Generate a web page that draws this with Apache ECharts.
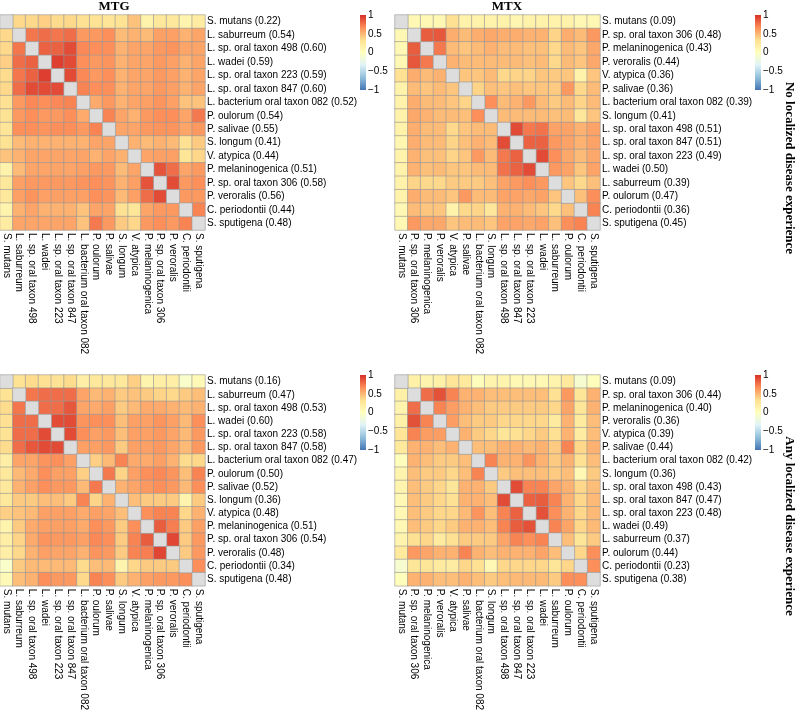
<!DOCTYPE html>
<html><head><meta charset="utf-8">
<script src="https://cdn.jsdelivr.net/npm/echarts@6/dist/echarts.min.js"></script>
<style>html,body{margin:0;padding:0;background:#fff}#c{width:796px;height:713px}</style>
</head><body><div id="c"></div>
<script>
// ---------- DATA ----------
const mtgTaxa = ["S. mutans","L. saburreum","L. sp. oral taxon 498","L. wadei","L. sp. oral taxon 223","L. sp. oral taxon 847","L. bacterium oral taxon 082","P. oulorum","P. salivae","S. longum","V. atypica","P. melaninogenica","P. sp. oral taxon 306","P. veroralis","C. periodontii","S. sputigena"];
const mtxTaxa = ["S. mutans","P. sp. oral taxon 306","P. melaninogenica","P. veroralis","V. atypica","P. salivae","L. bacterium oral taxon 082","S. longum","L. sp. oral taxon 498","L. sp. oral taxon 847","L. sp. oral taxon 223","L. wadei","L. saburreum","P. oulorum","C. periodontii","S. sputigena"];

const mtgNoMeans  = [0.22,0.54,0.60,0.59,0.59,0.60,0.52,0.54,0.55,0.41,0.44,0.51,0.58,0.56,0.44,0.48];
const mtxNoMeans  = [0.09,0.48,0.43,0.44,0.36,0.36,0.39,0.41,0.51,0.51,0.49,0.50,0.39,0.47,0.36,0.45];
const mtgAnyMeans = [0.16,0.47,0.53,0.60,0.58,0.58,0.47,0.50,0.52,0.36,0.48,0.51,0.54,0.48,0.34,0.48];
const mtxAnyMeans = [0.09,0.44,0.40,0.36,0.39,0.44,0.42,0.36,0.43,0.47,0.48,0.49,0.37,0.44,0.23,0.38];

// lower triangles of the correlation matrices (row i: columns 0..i-1)
const mtgNoLower = [
  [],
  [0.36],
  [0.36,0.75],
  [0.40,0.78,0.82],
  [0.35,0.75,0.82,0.95],
  [0.36,0.78,0.90,0.90,0.90],
  [0.32,0.62,0.68,0.66,0.68,0.70],
  [0.30,0.62,0.66,0.62,0.62,0.66,0.55],
  [0.28,0.66,0.66,0.64,0.66,0.66,0.62,0.70],
  [0.30,0.48,0.52,0.52,0.52,0.52,0.52,0.57,0.57],
  [0.45,0.52,0.57,0.57,0.57,0.57,0.57,0.52,0.57,0.52],
  [0.14,0.48,0.57,0.57,0.57,0.57,0.59,0.62,0.62,0.48,0.57],
  [0.25,0.59,0.62,0.62,0.62,0.62,0.64,0.66,0.64,0.52,0.59,0.87],
  [0.25,0.59,0.64,0.59,0.59,0.59,0.59,0.66,0.64,0.49,0.59,0.78,0.90],
  [0.12,0.52,0.57,0.52,0.52,0.52,0.45,0.57,0.57,0.32,0.27,0.57,0.62,0.62],
  [0.20,0.57,0.57,0.57,0.57,0.57,0.45,0.74,0.62,0.42,0.37,0.62,0.66,0.62,0.70]
];
const mtxNoLower = [
  [],
  [0.08],
  [0.08,0.84],
  [0.08,0.86,0.74],
  [0.32,0.54,0.48,0.52],
  [0.14,0.48,0.44,0.48,0.44],
  [0.14,0.54,0.48,0.48,0.44,0.38],
  [0.14,0.56,0.52,0.48,0.48,0.46,0.66],
  [0.14,0.54,0.48,0.48,0.36,0.44,0.48,0.48],
  [0.10,0.54,0.48,0.48,0.38,0.46,0.52,0.48,0.90],
  [0.14,0.52,0.46,0.46,0.38,0.44,0.62,0.48,0.74,0.82],
  [0.14,0.52,0.46,0.48,0.44,0.44,0.48,0.48,0.76,0.82,0.90],
  [0.14,0.38,0.36,0.36,0.42,0.42,0.42,0.46,0.58,0.62,0.66,0.62],
  [0.14,0.54,0.48,0.48,0.44,0.62,0.48,0.48,0.58,0.58,0.56,0.58,0.44],
  [0.08,0.48,0.44,0.44,0.14,0.36,0.38,0.26,0.52,0.52,0.48,0.44,0.36,0.46],
  [0.08,0.62,0.56,0.56,0.44,0.48,0.48,0.44,0.58,0.58,0.56,0.58,0.46,0.66,0.70]
];
const mtgAnyLower = [
  [],
  [0.30],
  [0.35,0.75],
  [0.32,0.78,0.78],
  [0.30,0.78,0.78,0.90],
  [0.35,0.78,0.86,0.90,0.90],
  [0.18,0.57,0.57,0.64,0.66,0.59],
  [0.25,0.49,0.55,0.66,0.59,0.59,0.40],
  [0.25,0.52,0.59,0.66,0.62,0.62,0.49,0.74],
  [0.25,0.42,0.42,0.47,0.47,0.42,0.70,0.38,0.52],
  [0.40,0.45,0.49,0.59,0.59,0.59,0.55,0.59,0.57,0.47],
  [0.12,0.42,0.55,0.59,0.59,0.59,0.55,0.66,0.62,0.42,0.66],
  [0.18,0.38,0.55,0.64,0.62,0.62,0.59,0.68,0.66,0.42,0.70,0.84],
  [0.18,0.36,0.52,0.59,0.57,0.57,0.52,0.64,0.62,0.42,0.70,0.72,0.92],
  [-0.06,0.42,0.49,0.49,0.49,0.49,0.35,0.47,0.49,0.12,0.37,0.42,0.42,0.42],
  [0.06,0.47,0.52,0.66,0.62,0.62,0.36,0.70,0.66,0.42,0.52,0.59,0.62,0.62,0.66]
];
const mtxAnyLower = [
  [],
  [0.16],
  [0.12,0.78],
  [0.16,0.88,0.70],
  [0.28,0.70,0.60,0.60],
  [0.24,0.52,0.52,0.47,0.52],
  [0.02,0.52,0.47,0.42,0.42,0.47],
  [0.12,0.47,0.42,0.42,0.37,0.47,0.70],
  [0.12,0.47,0.42,0.37,0.27,0.52,0.52,0.42],
  [0.08,0.47,0.42,0.37,0.32,0.52,0.52,0.47,0.90],
  [0.08,0.47,0.42,0.37,0.37,0.49,0.64,0.47,0.70,0.82],
  [0.08,0.47,0.42,0.37,0.42,0.52,0.52,0.47,0.70,0.84,0.88],
  [0.12,0.32,0.37,0.22,0.32,0.42,0.42,0.42,0.57,0.70,0.66,0.70],
  [0.24,0.62,0.57,0.52,0.52,0.70,0.52,0.47,0.52,0.52,0.52,0.57,0.47],
  [-0.10,0.27,0.27,0.22,0.20,0.37,0.32,0.08,0.37,0.37,0.37,0.37,0.27,0.37],
  [0.02,0.52,0.52,0.47,0.47,0.52,0.47,0.42,0.47,0.49,0.49,0.49,0.42,0.66,0.66]
];

const colorbarTicks = [-1, -0.5, 0, 0.5, 1];
const paletteColors = ['#4575B4','#91BFDB','#E0F3F8','#FFFFBF','#FEE090','#FC8D59','#D73027'];

// ---------- BUILD ----------
function cells(lower){
  const n = lower.length, out = [];
  for (let i = 0; i < n; i++) for (let j = 0; j < n; j++) {
    if (i === j) continue;
    const v = i > j ? lower[i][j] : lower[j][i];
    out.push([j, i, v]);
  }
  return out;
}
function diag(n){ const d=[]; for(let i=0;i<n;i++) d.push([i,i,0]); return d; }

const panels = [
  {taxa: mtgTaxa, means: mtgNoMeans,  lower: mtgNoLower,  left: 0,   top: 15},
  {taxa: mtxTaxa, means: mtxNoMeans,  lower: mtxNoLower,  left: 395, top: 15},
  {taxa: mtgTaxa, means: mtgAnyMeans, lower: mtgAnyLower, left: 0,   top: 375},
  {taxa: mtxTaxa, means: mtxAnyMeans, lower: mtxAnyLower, left: 395, top: 375}
];
const cbars = [{left:360, top:15},{left:755, top:15},{left:360, top:375},{left:755, top:375}];

const FONT = '"Liberation Sans", Arial, Helvetica, sans-serif';
const SERIF = '"Liberation Serif", "Times New Roman", serif';
const BORDER = 'rgba(150,150,150,0.6)';

const grid = [], xAxis = [], yAxis = [], series = [];
const valueSeriesIdx = [];
panels.forEach((p, k) => {
  grid.push({left: p.left, top: p.top, width: 205, height: 215});
  xAxis.push({type:'category', gridIndex:k, data:p.taxa, position:'bottom',
    axisLine:{show:false}, axisTick:{show:false}, splitLine:{show:false},
    axisLabel:{rotate:-90, interval:0, margin:3, fontSize:10, color:'#000', fontFamily:FONT}});
  yAxis.push({type:'category', gridIndex:k, inverse:true, position:'right',
    data:p.taxa.map((t,i)=> t + ' (' + p.means[i].toFixed(2) + ')'),
    axisLine:{show:false}, axisTick:{show:false}, splitLine:{show:false},
    axisLabel:{interval:0, margin:2, fontSize:10, color:'#000', fontFamily:FONT}});
  valueSeriesIdx.push(series.length);
  series.push({type:'heatmap', xAxisIndex:k, yAxisIndex:k, data:cells(p.lower),
    itemStyle:{borderColor:BORDER, borderWidth:1}, emphasis:{disabled:true}, silent:true});
  series.push({type:'heatmap', xAxisIndex:k, yAxisIndex:k, data:diag(p.taxa.length),
    itemStyle:{color:'#DDDDDD', borderColor:BORDER, borderWidth:1}, emphasis:{disabled:true}, silent:true});
});
cbars.forEach((c, m) => {
  const gi = 4 + m;
  grid.push({left:c.left, top:c.top, width:6, height:75});
  xAxis.push({type:'value', gridIndex:gi, min:0, max:1, show:false});
  yAxis.push({type:'value', gridIndex:gi, min:colorbarTicks[0], max:colorbarTicks[colorbarTicks.length-1], interval:0.5,
    position:'right', axisLine:{show:false}, axisTick:{show:false}, splitLine:{show:false},
    axisLabel:{margin:2, fontSize:10, color:'#000', fontFamily:FONT,
      formatter: v => String(v).replace('-', '\u2212')}});
  series.push({type:'custom', xAxisIndex:gi, yAxisIndex:gi, data:[[0,0]], silent:true, clip:false,
    renderItem: (params, api) => {
      const a = api.coord([0, 1]), b = api.coord([1, -1]);
      const stops = paletteColors.slice().reverse().map((col, i) => ({offset: i/(paletteColors.length-1), color: col}));
      return {type:'rect', shape:{x:a[0], y:a[1], width:b[0]-a[0], height:b[1]-a[1]},
        style:{fill: new echarts.graphic.LinearGradient(0,0,0,1,stops)}};
    }});
});

const option = {
  animation:false,
  backgroundColor:'#fff',
  grid, xAxis, yAxis, series,
  visualMap:{type:'continuous', show:false, min:-1, max:1, seriesIndex:valueSeriesIdx,
    inRange:{color:paletteColors}},
  graphic:[
    {type:'text', x:114, y:7, style:{text:'MTG', font:'bold 13px ' + SERIF, fill:'#000', textAlign:'center', textVerticalAlign:'middle'}},
    {type:'text', x:507, y:7, style:{text:'MTX', font:'bold 13px ' + SERIF, fill:'#000', textAlign:'center', textVerticalAlign:'middle'}},
    {type:'text', x:789, y:168, rotation:-Math.PI/2, style:{text:'No localized disease experience', font:'bold 13px ' + SERIF, fill:'#000', textAlign:'center', textVerticalAlign:'middle'}},
    {type:'text', x:789, y:526, rotation:-Math.PI/2, style:{text:'Any localized disease experience', font:'bold 13px ' + SERIF, fill:'#000', textAlign:'center', textVerticalAlign:'middle'}}
  ]
};
const chart = echarts.init(document.getElementById('c'), null, {renderer:'canvas'});
chart.setOption(option);
</script></body></html>
